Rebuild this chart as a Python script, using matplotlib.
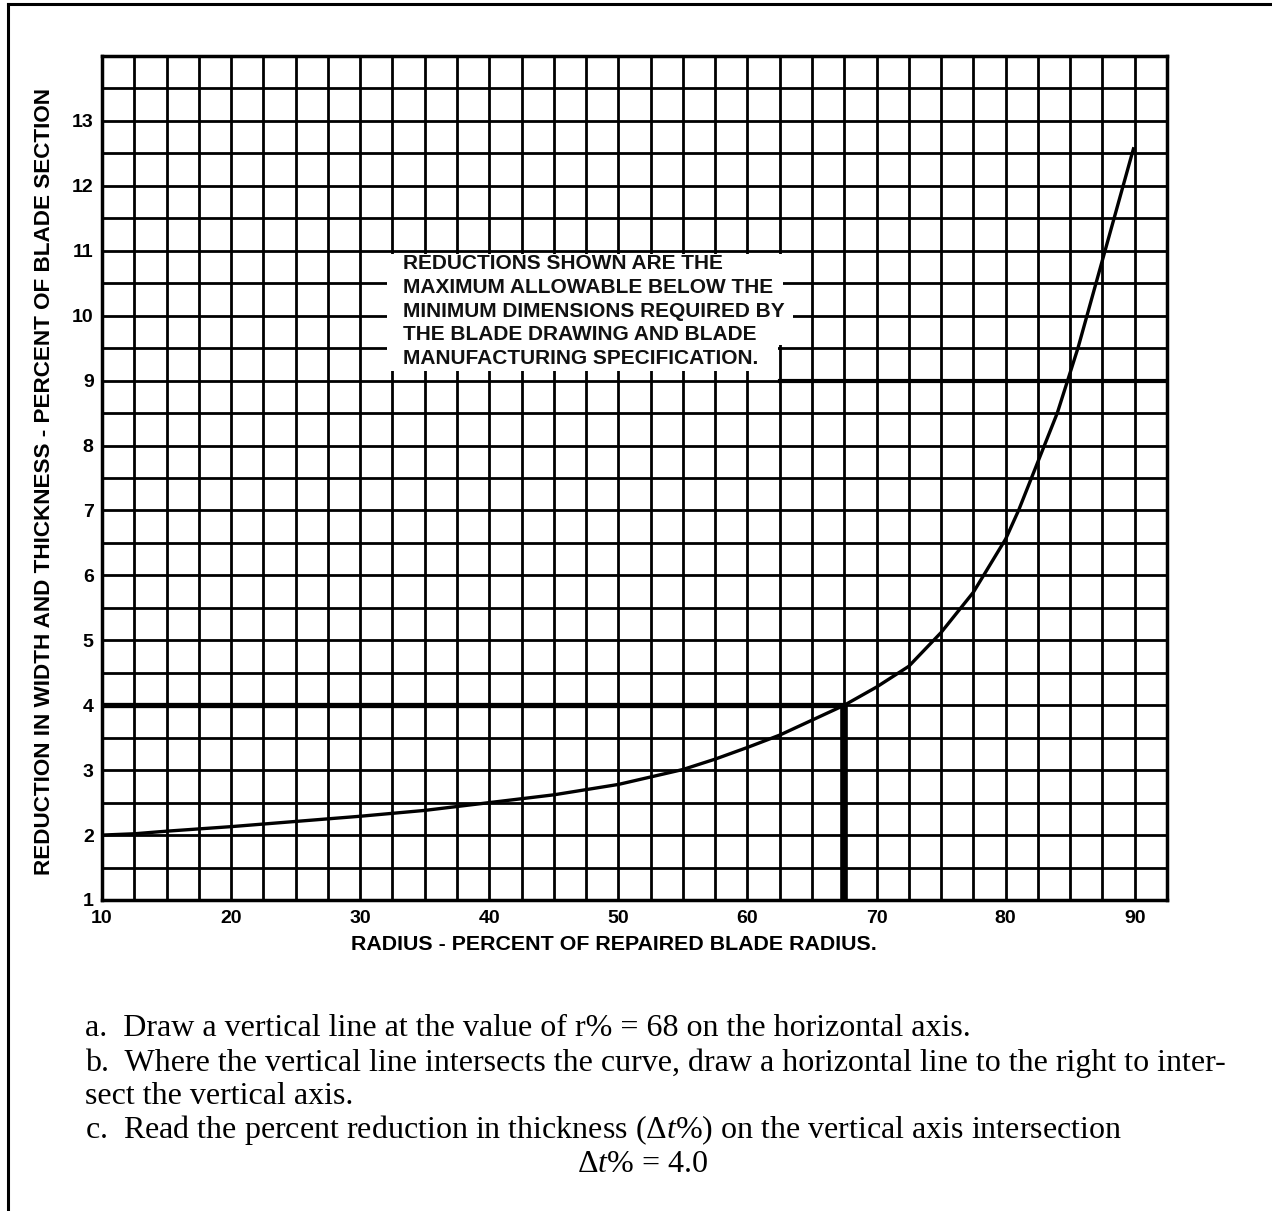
import matplotlib.pyplot as plt
import numpy as np
from matplotlib.patches import Polygon
from matplotlib.lines import Line2D

plt.rcParams['mathtext.fontset'] = 'custom'
plt.rcParams['mathtext.rm'] = 'Liberation Serif'
plt.rcParams['mathtext.it'] = 'Liberation Serif:italic'

# curve
radius = [10, 12.5, 15, 20, 25, 30, 35, 40, 45, 50, 55, 57.5, 60, 62.5, 65,
          67.5, 70, 72.5, 75, 77.5, 80, 81.0, 82.0, 83.0, 84.0, 84.8,
          85.6, 86.3, 87.0, 87.7, 88.4, 89.1, 89.8, 89.9]
reduction = [2.0, 2.02, 2.06, 2.13, 2.21, 2.29, 2.38, 2.50, 2.62, 2.78, 3.01,
             3.17, 3.35, 3.54, 3.77, 4.0, 4.28, 4.6, 5.12, 5.74, 6.56, 7.0,
             7.5, 8.0, 8.5, 9.0, 9.5, 10.0, 10.5, 11.0, 11.5, 12.0, 12.5, 12.57]

x_ticks = [10, 20, 30, 40, 50, 60, 70, 80, 90]
y_ticks = list(range(1, 14))

# worked example: r% and resulting reduction
pick_r = 67.5
pick_dt = 4.0

note_lines = ["REDUCTIONS SHOWN ARE THE",
              "MAXIMUM ALLOWABLE BELOW THE",
              "MINIMUM DIMENSIONS REQUIRED BY",
              "THE BLADE DRAWING AND BLADE",
              "MANUFACTURING SPECIFICATION."]

steps = ["a.  Draw a vertical line at the value of r% = 68 on the horizontal axis.",
         "b.  Where the vertical line intersects the curve, draw a horizontal line to the right to inter-",
         "sect the vertical axis.",
         r"c.  Read the percent reduction in thickness ($\Delta\mathit{t\%}$) on the vertical axis intersection"]
answer = r"$\Delta\mathit{t\%}$ = 4.0"

W, H = 1272, 1211
fig = plt.figure(figsize=(W / 100, H / 100), dpi=100)
ax = fig.add_axes([102 / W, 1 - 900 / H, 1065 / W, 844 / H])

ax.set_xlim(10, 92.5)
ax.set_ylim(1, 14)
ax.set_xticks(x_ticks)
ax.set_xticks(np.arange(10, 92.51, 2.5), minor=True)
ax.set_yticks(y_ticks)
ax.set_yticks(np.arange(1, 14.01, 0.5), minor=True)
ax.set_axisbelow(True)
ax.grid(which='both', color='black', lw=2.0)
ax.tick_params(which='both', length=0)
ax.tick_params(axis='x', pad=7)
ax.tick_params(axis='y', pad=6)
for lab in ax.get_xticklabels() + ax.get_yticklabels():
    lab.set_fontfamily('Liberation Sans')
    lab.set_fontweight('bold')
    lab.set_fontsize(14)
for sp in ax.spines.values():
    sp.set_linewidth(2.5)

# note box blanks out part of the grid
box = Polygon([(32.1, 9.15), (62.4, 9.15), (62.4, 9.55), (63.5, 9.55),
               (63.5, 10.3), (62.75, 10.3), (62.75, 10.95), (32.1, 10.95)],
              closed=True, facecolor='white', edgecolor='none', zorder=1)
ax.add_patch(box)
for i, line in enumerate(note_lines):
    ax.text(33.3, 10.80 - i * 0.365, line, fontsize=15, fontweight='bold',
            family='Liberation Sans', va='center', ha='left', zorder=4,
            color='#111111')

# slightly heavier line at 9
ax.plot([62.5, 92.5], [9, 9], color='black', lw=3.0, zorder=2)

ax.plot(radius, reduction, color='black', lw=2.4, zorder=3)
ax.plot([10, pick_r], [pick_dt, pick_dt], color='black', lw=3.8, zorder=3,
        solid_capstyle='butt')
ax.plot([pick_r, pick_r], [1, pick_dt], color='black', lw=5.5, zorder=3,
        solid_capstyle='butt')

fig.text(45 / W, 1 - 482 / H,
         "REDUCTION IN WIDTH AND THICKNESS - PERCENT OF BLADE SECTION",
         rotation=90, ha='center', va='center', fontsize=16.2,
         fontweight='bold', family='Liberation Sans')
fig.text(614 / W, 1 - 945 / H, "RADIUS - PERCENT OF REPAIRED BLADE RADIUS.",
         ha='center', va='center', fontsize=15.4, fontweight='bold',
         family='Liberation Sans')

# page frame (left and top edges only)
fig.add_artist(Line2D([8 / W, 8 / W], [0, 1 - 4 / H], color='black', lw=2.2))
fig.add_artist(Line2D([8 / W, 1], [1 - 4 / H, 1 - 4 / H], color='black', lw=2.2))

step_y = [1029, 1063, 1096, 1130]
for t, yy in zip(steps, step_y):
    fig.text(85 / W, 1 - yy / H, t, ha='left', va='center', fontsize=23,
             family='Liberation Serif')
fig.text(642 / W, 1 - 1164 / H, answer, ha='center', va='center',
         fontsize=23, family='Liberation Serif')

fig.savefig('out.png', dpi=100)
